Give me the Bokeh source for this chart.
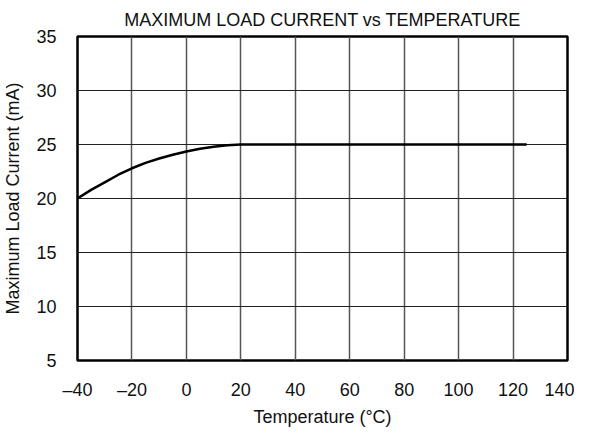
from bokeh.plotting import figure
from bokeh.models import FixedTicker, Range1d
from bokeh.embed import file_html
from bokeh.resources import INLINE

# ---- data ----
temperature = [-40, -35, -30, -25, -20, -15, -10, -5, 0, 5, 10, 15, 20, 125]
load_current = [20.0, 20.8, 21.5, 22.2, 22.8, 23.3, 23.7, 24.05, 24.35, 24.6, 24.8, 24.93, 25.0, 25.0]

x_ticks = [-40, -20, 0, 20, 40, 60, 80, 100, 120, 140]
x_tick_labels = ["\u201340", "\u201320", "0", "20", "40", "60", "80", "100", "120", "140"]
y_ticks = [5, 10, 15, 20, 25, 30, 35]

title_text = "MAXIMUM LOAD CURRENT vs TEMPERATURE"
x_label = "Temperature (\u00b0C)"
y_label = "Maximum Load Current (mA)"

FONT = "Liberation Sans"

p = figure(width=574, height=429, output_backend="svg", toolbar_location=None,
           x_range=Range1d(-40, 140), y_range=Range1d(5, 35),
           min_border_left=69, min_border_right=7, min_border_top=34, min_border_bottom=57,
           title=title_text)

p.background_fill_color = "white"
p.border_fill_color = "white"
p.outline_line_color = "black"
p.outline_line_width = 2.5

p.title.align = "center"
p.title.text_font = FONT
p.title.text_font_size = "18px"
p.title.text_font_style = "normal"
p.title.text_color = "#111111"
p.title.standoff = 14

for ax in (p.xaxis[0], p.yaxis[0]):
    ax.axis_line_color = None
    ax.major_tick_line_color = None
    ax.minor_tick_line_color = None
    ax.major_label_text_font = FONT
    ax.major_label_text_font_size = "18px"
    ax.major_label_text_color = "#111111"
    ax.axis_label_text_font = FONT
    ax.axis_label_text_font_size = "18px"
    ax.axis_label_text_font_style = "normal"
    ax.axis_label_text_color = "#111111"

p.xaxis.ticker = FixedTicker(ticks=x_ticks)
p.xaxis.major_label_overrides = {t: s for t, s in zip(x_ticks, x_tick_labels)}
p.yaxis.ticker = FixedTicker(ticks=y_ticks)
p.xaxis.axis_label = x_label
p.yaxis.axis_label = y_label
p.xaxis.major_label_standoff = 13
p.xaxis.axis_label_standoff = 4
p.yaxis.major_label_standoff = 15
p.yaxis.axis_label_standoff = 10

p.xgrid.ticker = FixedTicker(ticks=x_ticks)
p.ygrid.ticker = FixedTicker(ticks=y_ticks)
p.xgrid.grid_line_color = "#555555"
p.xgrid.grid_line_width = 1.5
p.ygrid.grid_line_color = "#222222"
p.ygrid.grid_line_width = 1

p.line(temperature, load_current, line_color="black", line_width=2.5)

open("out.html", "w").write(file_html(p, INLINE))
